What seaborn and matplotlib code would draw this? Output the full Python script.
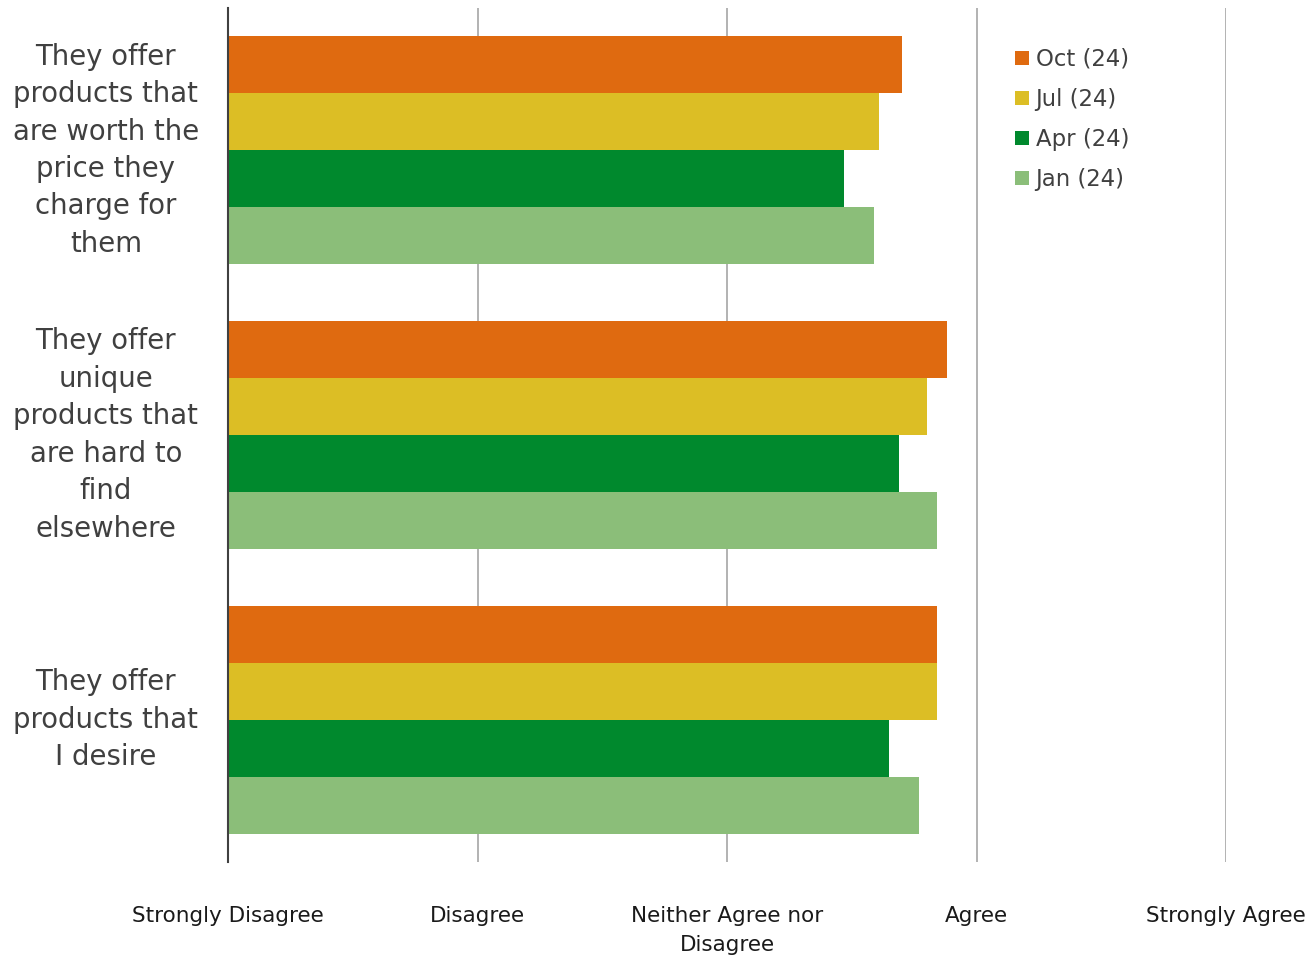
import pandas as pd
import matplotlib.pyplot as plt
import seaborn as sns

# Survey statements (y categories) and the four waves
statements = [
    "They offer\nproducts that\nare worth the\nprice they\ncharge for\nthem",
    "They offer\nunique\nproducts that\nare hard to\nfind\nelsewhere",
    "They offer\nproducts that\nI desire",
]
waves = ["Oct (24)", "Jul (24)", "Apr (24)", "Jan (24)"]

# Mean scores on the 1-5 agreement scale, one list per wave
oct_scores = [3.70, 3.88, 3.84]
jul_scores = [3.61, 3.80, 3.84]
apr_scores = [3.47, 3.69, 3.65]
jan_scores = [3.59, 3.84, 3.77]

scale_labels = ["Strongly Disagree", "Disagree", "Neither Agree nor\nDisagree",
                "Agree", "Strongly Agree"]
scale_values = [1, 2, 3, 4, 5]

colors = ["#DF6A10", "#DCBE25", "#00892D", "#8BBE79"]
text_color = "#404040"

# build a long table for seaborn
rows = []
for wave, scores in zip(waves, [oct_scores, jul_scores, apr_scores, jan_scores]):
    for stmt, val in zip(statements, scores):
        rows.append({"statement": stmt, "wave": wave, "score": val})
df = pd.DataFrame(rows)

sns.set_style("white")
plt.rcParams['font.family'] = ['DejaVu Sans']

fig = plt.figure(figsize=(13.16, 9.6), dpi=100)
ax = fig.add_axes([0.1733, 0.1021, 0.7584, 0.8896])

sns.barplot(data=df, x="score", y="statement", hue="wave", order=statements,
            hue_order=waves, palette=colors, saturation=1, width=0.8,
            linewidth=0, orient="h", ax=ax, legend=True)

ax.set_xlim(1, 5)
ax.set_ylim(2.5, -0.5)
ax.set_xticks(scale_values)
ax.set_xticklabels(scale_labels, fontsize=15.5, color="#1a1a1a")
for lbl in ax.get_xticklabels():
    lbl.set_linespacing(1.55)
ax.tick_params(axis="x", length=0, pad=32)
ax.tick_params(axis="y", length=0, pad=88)
for lbl in ax.get_yticklabels():
    lbl.set_ha("center")
    lbl.set_va("center")
    lbl.set_fontsize(19.8)
    lbl.set_color(text_color)
    lbl.set_linespacing(1.43)

ax.set_xlabel("")
ax.set_ylabel("")

# vertical gridlines
ax.set_axisbelow(True)
ax.grid(axis="x", color="#A6A6A6", linewidth=1.2)
ax.grid(axis="y", visible=False)
for side in ["top", "right", "bottom"]:
    ax.spines[side].set_visible(False)
ax.spines["left"].set_color(text_color)
ax.spines["left"].set_linewidth(1.5)

leg = ax.legend(loc="upper left", bbox_to_anchor=(0.7713, 0.950),
                bbox_transform=fig.transFigure, frameon=False, fontsize=16.4,
                handlelength=0.6, handleheight=0.6, handletextpad=0.3,
                labelspacing=0.75, borderpad=0, borderaxespad=0)
for t in leg.get_texts():
    t.set_color(text_color)

fig.savefig("out.png", dpi=100)
